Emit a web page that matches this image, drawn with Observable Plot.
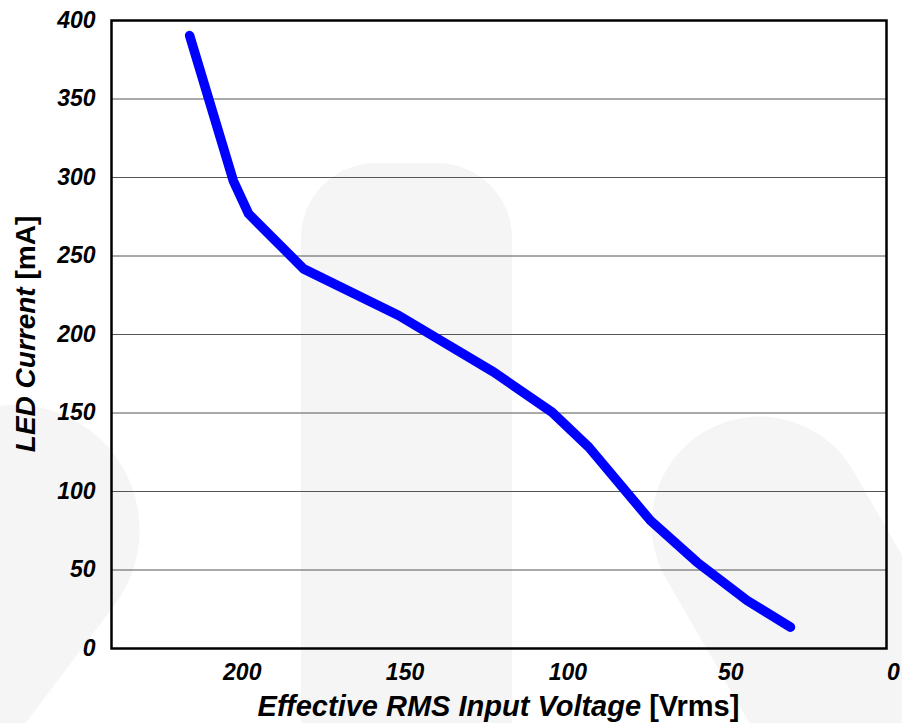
<!DOCTYPE html>
<html>
<head>
<meta charset="utf-8">
<script src="https://cdn.jsdelivr.net/npm/d3@7"></script>
<script src="https://cdn.jsdelivr.net/npm/@observablehq/plot@0.6"></script>
<style>
  html, body { margin: 0; padding: 0; background: #ffffff; }
  #chart { width: 902px; height: 723px; }
</style>
</head>
<body>
<div id="chart"></div>
<script>
// Data
const voltage = [214, 200.6, 195.9, 179, 149.8, 120.6, 102.7, 91.4, 72.5, 58.2, 42.8, 29.5];   // Vrms
const current = [390.4, 298, 276.9, 241.8, 212.1, 176, 150.5, 128.2, 81.5, 55, 30.6, 13.6];   // mA
const xTicks = [200, 150, 100, 50, 0];
const yTicks = [0, 50, 100, 150, 200, 250, 300, 350, 400];
const gridValues = [50, 100, 150, 200, 250, 300, 350];
const xTitleItalic = "Effective RMS Input Voltage";
const xTitleUnit = " [Vrms]";
const yTitleItalic = "LED Current";
const yTitleUnit = " [mA]";

const data = voltage.map((v, i) => ({v, c: current[i]}));

const W = 902, H = 723;
const mL = 111, mR = 16, mT = 20, mB = 75;

const chart = Plot.plot({
  width: W,
  height: H,
  marginLeft: mL,
  marginRight: mR,
  marginTop: mT,
  marginBottom: mB,
  style: {
    background: "transparent",
    fontFamily: "'Liberation Sans', Arial, sans-serif",
    fontSize: "23px",
    fontWeight: "bold",
    fontStyle: "italic",
    color: "black",
    overflow: "visible"
  },
  x: {domain: [238, 0], label: null},
  y: {domain: [0, 400], label: null},
  marks: [
    Plot.ruleY(gridValues, {stroke: "#555", strokeWidth: 1}),
    Plot.axisY({ticks: yTicks, tickSize: 0, tickPadding: 16, tickFormat: d => String(d), label: null, fill: "black"}),
    Plot.axisX({ticks: xTicks, tickSize: 0, tickPadding: 15, dx: 7, tickFormat: d => String(d), label: null, fill: "black"}),
    Plot.line(data, {x: "v", y: "c", stroke: "#0000ff", strokeWidth: 9.5, strokeLinecap: "round", strokeLinejoin: "round"}),
    Plot.frame({stroke: "black", strokeWidth: 2.5})
  ]
});

document.getElementById("chart").appendChild(chart);

const svg = d3.select(chart);

// faint watermark shapes behind everything
const wm = svg.insert("g", ":first-child").attr("fill", "#f5f5f5");
wm.append("rect").attr("x", 301).attr("y", 163).attr("width", 211).attr("height", 700).attr("rx", 75);
wm.append("rect").attr("transform", "translate(612,485) rotate(-30)")
  .attr("x", 0).attr("y", 0).attr("width", 216).attr("height", 700).attr("rx", 108);
wm.append("rect").attr("transform", "translate(-10,355) rotate(37)")
  .attr("x", 0).attr("y", 0).attr("width", 250).attr("height", 700).attr("rx", 125);

// axis titles with mixed italic / upright parts
const xt = svg.append("text")
  .attr("x", mL + (W - mL - mR) / 2)
  .attr("y", 716)
  .attr("text-anchor", "middle")
  .attr("font-size", 29)
  .attr("font-weight", "bold")
  .attr("fill", "black");
xt.append("tspan").attr("font-style", "italic").text(xTitleItalic);
xt.append("tspan").attr("font-style", "normal").text(xTitleUnit);

const yt = svg.append("text")
  .attr("transform", `translate(35,${mT + (H - mT - mB) / 2}) rotate(-90)`)
  .attr("text-anchor", "middle")
  .attr("font-size", 28)
  .attr("font-weight", "bold")
  .attr("fill", "black");
yt.append("tspan").attr("font-style", "italic").text(yTitleItalic);
yt.append("tspan").attr("font-style", "normal").text(yTitleUnit);
</script>
</body>
</html>
